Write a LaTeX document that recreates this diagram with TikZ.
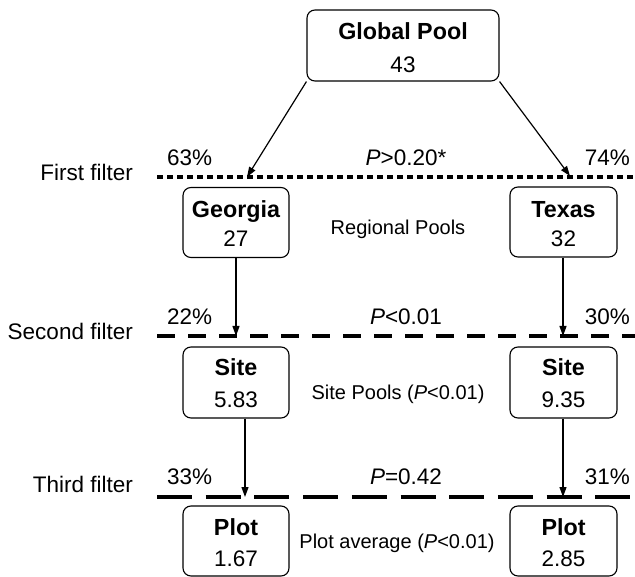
\documentclass[tikz,border=0pt]{standalone}
\usepackage{fontspec}
\setmainfont{Liberation Sans}
\usetikzlibrary{arrows.meta}
\begin{document}
\begin{tikzpicture}[x=1pt,y=-1pt,
  poolbox/.style={draw, line width=1.1pt, rounded corners=8pt, inner sep=0pt, minimum height=70pt},
  maintxt/.style={font=\fontsize{22.5}{27}\selectfont, inner sep=0pt, anchor=base},
  titletxt/.style={font=\fontsize{23.3}{28}\selectfont\bfseries, inner sep=0pt, anchor=base},
  midtxt/.style={font=\fontsize{20}{24}\selectfont, inner sep=0pt, anchor=base},
  flow/.style={line width=1.2pt, -{Triangle[length=10pt,width=7pt]}},
  filterone/.style={line width=4pt, dash pattern=on 6pt off 4pt},
  filtertwo/.style={line width=4.5pt, dash pattern=on 18pt off 13pt},
  filterthree/.style={line width=4.5pt, dash pattern=on 35pt off 13.7pt}
]
\useasboundingbox (0,0) rectangle (635,577);

% boxes
\node[poolbox, minimum width=192pt, minimum height=71pt] (glob) at (403,45.5) {};
\node[titletxt] at (403,40) {Global Pool};
\node[maintxt] at (403,73) {43};

\node[poolbox, minimum width=106pt] (geo) at (236,222.5) {};
\node[titletxt] at (236,218) {Georgia};
\node[maintxt] at (236,247) {27};

\node[poolbox, minimum width=107pt] (tex) at (563.5,222) {};
\node[titletxt] at (563.5,218) {Texas};
\node[maintxt] at (563.5,247) {32};

\node[poolbox, minimum width=106pt, minimum height=71pt] (siteg) at (236,382.5) {};
\node[titletxt] at (236,376) {Site};
\node[maintxt] at (236,408) {5.83};

\node[poolbox, minimum width=107pt, minimum height=71pt] (sitet) at (563.5,382.5) {};
\node[titletxt] at (563.5,376) {Site};
\node[maintxt] at (563.5,408) {9.35};

\node[poolbox, minimum width=106pt] (plotg) at (236,541) {};
\node[titletxt] at (236,535) {Plot};
\node[maintxt] at (236,566) {1.67};

\node[poolbox, minimum width=107pt] (plott) at (563.5,541) {};
\node[titletxt] at (563.5,535) {Plot};
\node[maintxt] at (563.5,566) {2.85};

% filter lines
\coordinate (f1s) at (157,177);
\coordinate (f1e) at (635,177);
\coordinate (f2s) at (157,336);
\coordinate (f2e) at (635,336);
\coordinate (f3s) at (157,497);
\coordinate (f3e) at (635,497);
\draw[filterone] (f1s) -- (f1e);
\draw[filtertwo] (f2s) -- (f2e);
\draw[filterthree] (f3s) -- (f3e);

% arrow end points on the lines
\coordinate (a1) at (247,177);
\coordinate (a2) at (570,176);
\coordinate (b1) at (236,336);
\coordinate (b2) at (563,336);
\coordinate (c1) at (245,497);
\coordinate (c2) at (563,497);

\draw[flow] (glob.south west) -- (a1);
\draw[flow] (glob.south east) -- (a2);
\draw[flow] (geo.south) -- (b1);
\draw[flow] (tex.south -| b2) -- (b2);
\draw[flow] (siteg.south -| c1) -- (c1);
\draw[flow] (sitet.south -| c2) -- (c2);

% filter labels
\node[maintxt, anchor=base east] (l1) at (133,181) {First filter};
\node[maintxt, anchor=base east] (l2) at (133,340) {Second filter};
\node[maintxt, anchor=base east] (l3) at (133,492) {Third filter};

\node[maintxt, anchor=base west] (p1l) at (167,166) {63\%};
\node[maintxt] (p1m) at (406,166) {\textit{P}>0.20*};
\node[maintxt, anchor=base east] (p1r) at (630,166) {74\%};

\node[maintxt, anchor=base west] (p2l) at (167,325) {22\%};
\node[maintxt] (p2m) at (406,325) {\textit{P}<0.01};
\node[maintxt, anchor=base east] (p2r) at (630,325) {30\%};

\node[maintxt, anchor=base west] (p3l) at (167,484) {33\%};
\node[maintxt] (p3m) at (406,484) {\textit{P}=0.42};
\node[maintxt, anchor=base east] (p3r) at (630,484) {31\%};

% middle labels
\node[midtxt] (m1) at (398,235) {Regional Pools};
\node[midtxt] (m2) at (398,400) {Site Pools (\textit{P}<0.01)};
\node[midtxt] (m3) at (397,548) {Plot average (\textit{P}<0.01)};
\end{tikzpicture}
\end{document}
